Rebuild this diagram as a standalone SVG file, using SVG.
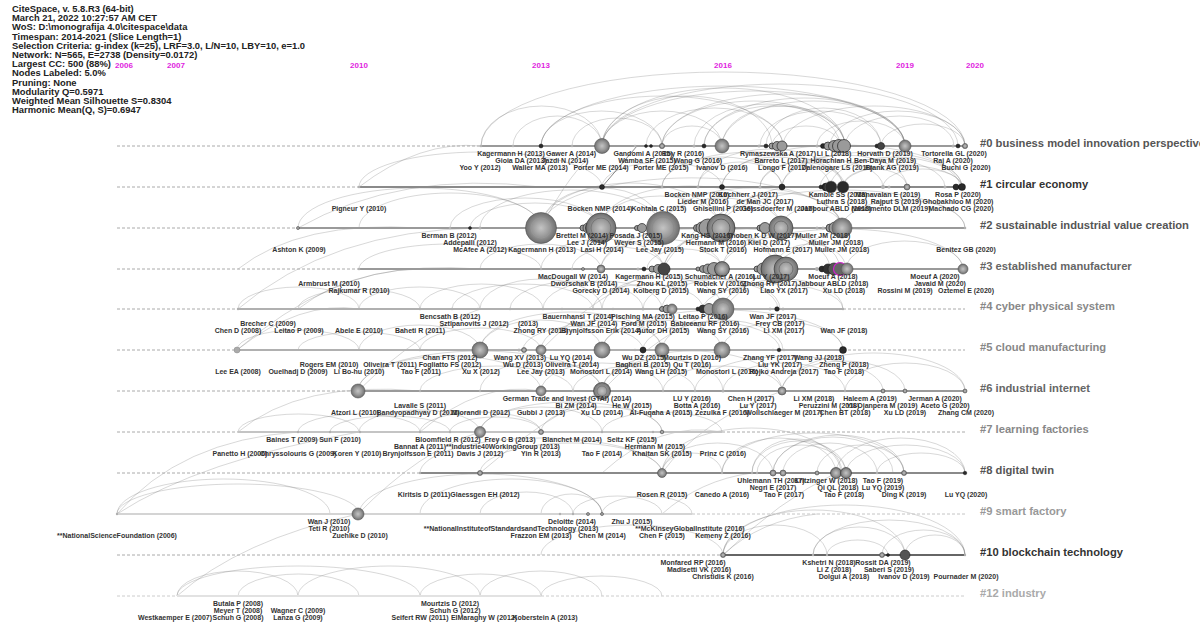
<svg xmlns="http://www.w3.org/2000/svg" width="1200" height="623" viewBox="0 0 1200 623">
<defs>
<radialGradient id="gg" cx="50%" cy="50%" r="50%">
<stop offset="0" stop-color="#c4c4c4"/><stop offset="0.55" stop-color="#9a9a9a"/><stop offset="1" stop-color="#6e6e6e"/>
</radialGradient>
<style>
.l{font:bold 7px "Liberation Sans",Arial,sans-serif;fill:#333;text-anchor:middle}
.h{font:bold 9.4px "Liberation Sans",Arial,sans-serif;fill:#222}
.y{font:bold 8px "Liberation Sans",Arial,sans-serif;fill:#e01ee0;text-anchor:middle}
.c{font:bold 11.2px "Liberation Sans",Arial,sans-serif}
.a path{fill:none;stroke:#6a6a6a;stroke-opacity:.33;stroke-width:.8}
.x path{fill:none;stroke:#6a6a6a;stroke-opacity:.33;stroke-width:.8}
.dl{stroke:#aaa;stroke-width:1;stroke-dasharray:3 2}
.sl{stroke:#9a9a9a;stroke-width:2.2}
.sf{stroke:#d4d4d4;stroke-width:2}
.n{fill:url(#gg);stroke:#555;stroke-width:.6}
.k{fill:#2a2a2a;stroke:#000;stroke-width:.4}
.t{fill:#b0b0b0}
.r{fill:#9a9a9a;stroke:#222;stroke-width:.7}
</style>
</defs>
<rect width="1200" height="623" fill="#fff"/>

<g id="header" class="h">
<text x="12" y="12">CiteSpace, v. 5.8.R3 (64-bit)</text>
<text x="12" y="21.2">March 21, 2022 10:27:57 AM CET</text>
<text x="12" y="30.4">WoS: D:\monografija 4.0\citespace\data</text>
<text x="12" y="39.6">Timespan: 2014-2021 (Slice Length=1)</text>
<text x="12" y="48.8">Selection Criteria: g-index (k=25), LRF=3.0, L/N=10, LBY=10, e=1.0</text>
<text x="12" y="58">Network: N=565, E=2738 (Density=0.0172)</text>
<text x="12" y="67.2">Largest CC: 500 (88%)</text>
<text x="12" y="76.4">Nodes Labeled: 5.0%</text>
<text x="12" y="85.6">Pruning: None</text>
<text x="12" y="94.8">Modularity Q=0.5971</text>
<text x="12" y="104">Weighted Mean Silhouette S=0.8304</text>
<text x="12" y="113.2">Harmonic Mean(Q, S)=0.6947</text>
</g>

<g id="years" class="y">
<text x="124" y="68">2006</text><text x="176" y="68">2007</text><text x="359" y="68">2010</text><text x="541" y="68">2013</text><text x="723" y="68">2016</text><text x="905" y="68">2019</text><text x="975" y="68">2020</text>
</g>

<g id="connectors">
<g class="a">
<path d="M481 146A242 74 0 0 1 965 146M541 146A182 60 0 0 1 905 146M602 146A151.5 55 0 0 1 905 146M602 146A121.5 58 0 0 1 845 146M541 146A121 50 0 0 1 783 146M602 146A60 35 0 0 1 722 146M662 146A91.5 45 0 0 1 845 146M722 146A61.5 40 0 0 1 845 146M722 146A91.5 45 0 0 1 905 146M783 146A91 40 0 0 1 965 146M760 146A60.5 35 0 0 1 881 146M646 146A68.5 38 0 0 1 783 146M602 146A85 50 0 0 1 772 146M694 146A73 42 0 0 1 840 146M817 146A44 25 0 0 1 905 146M845 146A54.5 30 0 0 1 954 146M881 146A42 22 0 0 1 965 146M662 146A30 20 0 0 1 722 146M513 146A44.5 30 0 0 1 602 146M572 146A45 28 0 0 1 662 146M772 146A34 20 0 0 1 840 146M541 146A60.5 35 0 0 1 662 146M704 146A100.5 48 0 0 1 905 146M766 146A57.5 38 0 0 1 881 146M830 146A67.5 35 0 0 1 965 146M481 146A60.5 40 0 0 1 602 146M602 146A178 62 0 0 1 958 146M662 146A121.5 52 0 0 1 905 146M704 146A70 40 0 0 1 845 146"/>
<path d="M662 187A91.5 35 0 0 1 845 187M698 187A72.5 38 0 0 1 843 187M722 187A54 30 0 0 1 830 187M760 187A41.5 25 0 0 1 843 187M782 187A62.5 32 0 0 1 907 187M722 187A120 42 0 0 1 962 187M820 187A62.5 28 0 0 1 945 187M843 187A59.5 22 0 0 1 962 187M843 187A32 18 0 0 1 907 187M698 187A42 25 0 0 1 782 187M602 187A60 25 0 0 1 722 187M782 187A90 35 0 0 1 962 187M883 187A39.5 18 0 0 1 962 187M662 187A60 30 0 0 1 782 187M760 187A61.5 28 0 0 1 883 187M359 187A121.5 35 0 0 1 602 187M830 187A65 30 0 0 1 960 187"/>
<path d="M298 228A121.5 40 0 0 1 541 228M359 228A91 35 0 0 1 541 228M450 228A75 30 0 0 1 600 228M480 228A91 38 0 0 1 662 228M541 228A60.5 40 0 0 1 662 228M541 228A89.5 45 0 0 1 720 228M600 228A90.5 42 0 0 1 781 228M662 228A90 40 0 0 1 842 228M720 228A61 35 0 0 1 842 228M600 228A60 32 0 0 1 720 228M781 228A30.5 20 0 0 1 842 228M662 228A59.5 30 0 0 1 781 228M720 228A122.5 38 0 0 1 965 228M842 228A61.5 28 0 0 1 965 228M470 228A65 25 0 0 1 600 228M541 228A150 50 0 0 1 842 228"/>
<path d="M359 269A91 25 0 0 1 541 269M572 269A46 22 0 0 1 664 269M601 269A60.5 30 0 0 1 722 269M664 269A55.5 35 0 0 1 775 269M722 269A59 35 0 0 1 840 269M601 269A91 40 0 0 1 783 269M664 269A83 40 0 0 1 830 269M722 269A120.5 40 0 0 1 963 269M775 269A35.5 25 0 0 1 846 269M846 269A58.5 28 0 0 1 963 269M647 269A37.5 20 0 0 1 722 269M541 269A61.5 30 0 0 1 664 269M480 269A60.5 25 0 0 1 601 269"/>
<path d="M238 309A60.5 22 0 0 1 359 309M298 309A61 20 0 0 1 420 309M359 309A60.5 22 0 0 1 480 309M420 309A61.5 25 0 0 1 543 309M480 309A61 30 0 0 1 602 309M543 309A59.5 28 0 0 1 662 309M602 309A60.5 32 0 0 1 723 309M662 309A59 30 0 0 1 780 309M723 309A60 30 0 0 1 843 309M452 309A70.5 25 0 0 1 593 309M510 309A66.5 28 0 0 1 643 309M593 309A55 25 0 0 1 703 309M643 309A67.5 30 0 0 1 778 309M703 309A70 25 0 0 1 843 309"/>
<path d="M237 350A61 20 0 0 1 359 350M298 350A61 18 0 0 1 420 350M359 350A60.5 25 0 0 1 480 350M420 350A60.5 22 0 0 1 541 350M480 350A61 30 0 0 1 602 350M541 350A60.5 30 0 0 1 662 350M602 350A60 30 0 0 1 722 350M662 350A60.5 30 0 0 1 783 350M722 350A60.5 28 0 0 1 843 350M480 350A91 38 0 0 1 662 350M523 350A60 24 0 0 1 643 350M643 350A68.5 28 0 0 1 780 350M602 350A120.5 40 0 0 1 843 350"/>
<path d="M358 391A91.5 35 0 0 1 541 391M358 391A122 40 0 0 1 602 391M420 391A76.5 25 0 0 1 573 391M480 391A61 30 0 0 1 602 391M541 391A61 28 0 0 1 663 391M602 391A60.5 32 0 0 1 723 391M602 391A90 40 0 0 1 782 391M663 391A59.5 25 0 0 1 782 391M723 391A61 28 0 0 1 845 391M782 391A61.5 30 0 0 1 905 391M845 391A60 28 0 0 1 965 391M782 391A91.5 38 0 0 1 965 391M695 391A94 35 0 0 1 883 391M573 391A61 25 0 0 1 695 391"/>
<path d="M238 432A60.5 18 0 0 1 359 432M298 432A61 18 0 0 1 420 432M359 432A60.5 22 0 0 1 480 432M420 432A60.5 20 0 0 1 541 432M480 432A61 25 0 0 1 602 432M541 432A60.5 25 0 0 1 662 432M602 432A60 20 0 0 1 722 432M450 432A45.5 15 0 0 1 541 432M330 432A60 16 0 0 1 450 432M480 432A91 30 0 0 1 662 432"/>
<path d="M420 473A121 35 0 0 1 662 473M480 473A91 30 0 0 1 662 473M662 473A89.5 45 0 0 1 841 473M662 473A55.5 30 0 0 1 773 473M722 473A57 35 0 0 1 836 473M752 473A47 32 0 0 1 846 473M773 473A65.5 38 0 0 1 904 473M783 473A47 30 0 0 1 877 473M817 473A43.5 28 0 0 1 904 473M836 473A64.5 35 0 0 1 965 473M846 473A59.5 28 0 0 1 965 473M757 473A44.5 28 0 0 1 846 473M877 473A44 20 0 0 1 965 473M662 473A30 20 0 0 1 722 473M722 473A91 40 0 0 1 904 473M773 473A60 36 0 0 1 893 473M752 473A45 34 0 0 1 842 473"/>
<path d="M117 514A106.5 35 0 0 1 330 514M117 514A121 30 0 0 1 359 514M359 514A121.5 40 0 0 1 602 514M420 514A91 35 0 0 1 602 514M541 514A30.5 20 0 0 1 602 514M573 514A44.5 18 0 0 1 662 514M602 514A45 18 0 0 1 692 514M480 514A46.5 22 0 0 1 573 514"/>
<path d="M723 555A91 45 0 0 1 905 555M723 555A52 30 0 0 1 827 555M813 555A46 28 0 0 1 905 555M827 555A30.5 15 0 0 1 888 555M882 555A41.5 25 0 0 1 965 555M905 555A30 20 0 0 1 965 555M723 555A121 50 0 0 1 965 555M813 555A76 35 0 0 1 965 555M541 555A91 30 0 0 1 723 555"/>
<path d="M177 596A60.5 25 0 0 1 298 596M238 596A60.5 22 0 0 1 359 596M298 596A91 30 0 0 1 480 596M420 596A60.5 22 0 0 1 541 596M480 596A61 25 0 0 1 602 596M541 596A60.5 20 0 0 1 662 596M177 596A121.5 30 0 0 1 420 596"/>
</g>
<g class="x">
<path d="M238 309Q330 230 480 228M237 350Q330 270 420 269M238 269Q300 220 420 228M298 228Q400 170 541 187M359 187Q420 140 481 146M358 391Q420 330 480 309M358 514Q420 450 480 432M117 514Q180 440 298 432M117 514Q200 460 359 432M238 432Q300 380 420 391M177 596Q240 540 358 514M541 350Q600 290 663 269M602 391Q660 330 722 309M662 473Q700 420 782 391M723 555Q780 500 836 473M480 473Q540 420 602 391M722 309Q780 250 842 228M662 269Q700 210 782 187M541 228Q570 170 602 146M298 309Q360 260 480 269M237 350Q300 300 359 309M420 432Q480 380 541 391M602 473Q660 420 722 432M662 514Q700 480 752 473M723 555Q760 520 817 514"/>
<path d="M602 187L637 146" style="stroke:#444;stroke-opacity:.8"/>
</g>
</g>

<g id="timelines">
<line class="dl" x1="117" y1="146" x2="481" y2="146"/><line class="sl" x1="481" y1="146" x2="965" y2="146"/>
<line class="dl" x1="117" y1="187" x2="359" y2="187"/><line class="sl" x1="359" y1="187" x2="965" y2="187" style="stroke:#8a8a8a"/>
<line class="dl" x1="117" y1="228" x2="298" y2="228"/><line class="sl" x1="298" y1="228" x2="965" y2="228"/>
<line class="dl" x1="117" y1="269" x2="359" y2="269"/><line class="sl" x1="359" y1="269" x2="965" y2="269"/>
<line class="dl" x1="117" y1="309" x2="238" y2="309"/><line class="sl" x1="238" y1="309" x2="843" y2="309" style="stroke:#b0b0b0"/><line class="dl" x1="843" y1="309" x2="965" y2="309"/>
<line class="dl" x1="117" y1="350" x2="237" y2="350"/><line class="sl" x1="237" y1="350" x2="843" y2="350" style="stroke:#b0b0b0"/><line class="dl" x1="843" y1="350" x2="965" y2="350"/>
<line class="dl" x1="117" y1="391" x2="358" y2="391"/><line class="sl" x1="358" y1="391" x2="965" y2="391"/>
<line class="dl" x1="117" y1="432" x2="238" y2="432"/><line class="sf" x1="238" y1="432" x2="722" y2="432" style="stroke:#c4c4c4"/><line class="dl" x1="722" y1="432" x2="965" y2="432"/>
<line class="dl" x1="117" y1="473" x2="420" y2="473"/><line class="sl" x1="420" y1="473" x2="965" y2="473" style="stroke:#8a8a8a"/>
<line class="sf" x1="117" y1="514" x2="692" y2="514"/><line class="dl" x1="692" y1="514" x2="965" y2="514" style="stroke:#c4c4c4"/>
<line class="dl" x1="117" y1="555" x2="723" y2="555"/><line class="sl" x1="723" y1="555" x2="965" y2="555" style="stroke:#666"/>
<line class="dl" x1="117" y1="596" x2="177" y2="596" style="stroke:#ccc"/><line class="sf" x1="177" y1="596" x2="541" y2="596" style="stroke:#e2e2e2"/><line class="dl" x1="541" y1="596" x2="965" y2="596" style="stroke:#ccc"/>
</g>

<g id="cluster-0">
<circle class="t" cx="481" cy="146" r="1.3"/><circle class="t" cx="513" cy="146" r="1.3"/><circle class="k" cx="541" cy="146" r="2"/><circle class="t" cx="572" cy="146" r="1.3"/>
<circle class="n" cx="602" cy="146" r="7.5"/><circle class="t" cx="635" cy="146" r="1.3"/><circle class="k" cx="646" cy="146" r="1.5"/><circle class="k" cx="651" cy="146" r="1.5"/><circle class="n" cx="662" cy="146" r="2.6"/>
<circle class="t" cx="694" cy="146" r="1.5"/><circle class="k" cx="704" cy="146" r="2"/><circle class="n" cx="722" cy="146" r="7"/><circle class="t" cx="759" cy="146" r="1.5"/><circle class="k" cx="766" cy="146" r="2"/>
<circle class="r" cx="772" cy="146" r="3"/><circle class="r" cx="777" cy="146" r="4.5"/><circle class="r" cx="782" cy="146" r="5"/>
<circle class="t" cx="817" cy="146" r="1.5"/><circle class="k" cx="823" cy="146" r="2.5"/><circle class="r" cx="828" cy="146" r="4"/><circle class="r" cx="834" cy="146" r="5.5"/><circle class="r" cx="839" cy="146" r="6.5"/><circle class="r" cx="844" cy="146" r="6.5"/>
<circle class="k" cx="877" cy="146" r="2"/><circle class="r" cx="881" cy="146" r="3.5" style="fill:#444"/><circle class="n" cx="905" cy="146" r="6"/><circle class="t" cx="953" cy="146" r="1.5"/><circle class="k" cx="958" cy="146" r="2"/><circle class="n" cx="965" cy="146" r="2.6"/>
<text class="c" x="980" y="147" fill="#555">#0 business model innovation perspective</text>
<g class="l">
<text x="511" y="155.5">Kagermann H (2013)</text><text x="571" y="155.5">Gawer A (2014)</text><text x="643" y="155.5">Gandomi A (2015)</text><text x="683" y="155.5">Roy R (2016)</text><text x="778" y="155.5">Rymaszewska A (2017)</text><text x="834" y="155.5">Li L (2018)</text><text x="885" y="155.5">Horvath D (2019)</text><text x="954" y="155.5">Tortorella GL (2020)</text>
<text x="521" y="162.5">Gioia DA (2013)</text><text x="565" y="162.5">Jazdi N (2014)</text><text x="647" y="162.5">Wamba SF (2015)</text><text x="698" y="162.5">Wang G (2016)</text><text x="781" y="162.5">Barreto L (2017)</text><text x="831" y="162.5">Horachian H</text><text x="885" y="162.5">Ben-Daya M (2019)</text><text x="953" y="162.5">Raj A (2020)</text>
<text x="480" y="169.5">Yoo Y (2012)</text><text x="540" y="169.5">Waller MA (2013)</text><text x="601" y="169.5">Porter ME (2014)</text><text x="661" y="169.5">Porter ME (2015)</text><text x="722" y="169.5">Ivanov D (2016)</text><text x="783" y="169.5">Longo F (2017)</text><text x="837" y="169.5">Dalenogare LS (2018)</text><text x="892" y="169.5">Frank AG (2019)</text><text x="966" y="169.5">Buchi G (2020)</text>
</g>
</g>

<g id="cluster-1">
<circle class="t" cx="359" cy="187" r="1.3"/><circle class="k" cx="602" cy="187" r="2.5"/><circle class="t" cx="662" cy="187" r="1.3"/><circle class="t" cx="698" cy="187" r="1.5"/><circle class="k" cx="722" cy="187" r="2.5"/><circle class="t" cx="760" cy="187" r="1.5"/><circle class="k" cx="782" cy="187" r="3"/>
<circle class="k" cx="821" cy="187" r="2"/><circle class="k" cx="826" cy="187" r="4"/><circle class="k" cx="831" cy="187" r="6" style="stroke:#777"/><circle class="k" cx="843" cy="187" r="6" style="stroke:#777"/>
<circle class="t" cx="883" cy="187" r="2"/><circle class="t" cx="889" cy="187" r="1.5"/><circle class="n" cx="907" cy="187" r="3"/><circle class="t" cx="945" cy="187" r="1.5"/><circle class="k" cx="956" cy="187" r="3"/><circle class="k" cx="962" cy="187" r="3.5"/>
<text class="c" x="980" y="188" fill="#333">#1 circular economy</text>
<g class="l">
<text x="697" y="196.5">Bocken NMP (2016)</text><text x="748" y="196.5">Kirchherr J (2017)</text><text x="838" y="196.5">Kamble SS (2018)</text><text x="888" y="196.5">Manavalan E (2019)</text><text x="958" y="196.5">Rosa P (2020)</text>
<text x="703" y="203.5">Lieder M (2016)</text><text x="765" y="203.5">de Man JC (2017)</text><text x="842" y="203.5">Luthra S (2018)</text><text x="896" y="203.5">Rajput S (2019)</text><text x="958" y="203.5">Ghobakhloo M (2020)</text>
<text x="359" y="210.5">Pigneur Y (2010)</text><text x="600" y="210.5">Bocken NMP (2014)</text><text x="659" y="210.5">Kohtala C (2015)</text><text x="723" y="210.5">Ghisellini P (2016)</text><text x="778" y="210.5">Geissdoerfer M (2017)</text><text x="836" y="210.5">Jabbour ABLD (2018)</text><text x="891" y="210.5">Nascimento DLM (2019)</text><text x="961" y="210.5">Machado CG (2020)</text>
</g>
</g>

<g id="cluster-2">
<circle class="n" cx="298" cy="228" r="1.5"/><circle class="t" cx="450" cy="228" r="1.3"/><circle class="k" cx="470" cy="228" r="1.5"/><circle class="t" cx="480" cy="228" r="1.5"/>
<circle class="n" cx="541" cy="228" r="15.5"/><circle cx="541" cy="228" r="10" fill="none" stroke="#999" stroke-width=".6"/>
<circle class="r" cx="583" cy="228" r="3"/><circle class="r" cx="588" cy="228" r="5"/><circle class="r" cx="593" cy="228" r="7.5"/><circle class="n" cx="601" cy="228" r="15" style="stroke:#333"/><circle cx="601" cy="228" r="10" fill="none" stroke="#666" stroke-width=".6"/>
<circle class="r" cx="637" cy="228" r="2.5"/><circle class="r" cx="642" cy="228" r="4.5"/><circle class="n" cx="663" cy="228" r="16.5"/><circle cx="663" cy="228" r="11" fill="none" stroke="#888" stroke-width=".6"/>
<circle class="r" cx="697" cy="228" r="3.5"/><circle class="r" cx="702" cy="228" r="6"/><circle class="r" cx="708" cy="228" r="9"/><circle class="n" cx="721" cy="228" r="14" style="stroke:#222"/><circle cx="721" cy="228" r="9" fill="none" stroke="#444" stroke-width=".6"/>
<circle class="r" cx="760" cy="228" r="3"/><circle class="r" cx="765" cy="228" r="5.5"/><circle class="n" cx="781" cy="228" r="12" style="stroke:#333"/><circle cx="781" cy="228" r="7" fill="none" stroke="#555" stroke-width=".6"/>
<circle class="t" cx="817" cy="228" r="1.5"/><circle class="t" cx="823" cy="228" r="1.5"/><circle class="r" cx="830" cy="228" r="4"/><circle class="r" cx="835" cy="228" r="6"/><circle class="n" cx="842" cy="228" r="10"/><circle class="t" cx="965" cy="228" r="1.3"/>
<text class="c" x="980" y="229" fill="#555">#2 sustainable industrial value creation</text>
<g class="l">
<text x="449" y="237.5">Berman B (2012)</text><text x="582" y="237.5">Brettel M (2014)</text><text x="636" y="237.5">Posada J (2015)</text><text x="707" y="237.5">Kang HS (2016)</text><text x="762" y="237.5">Thoben K D W (2017)</text><text x="823" y="237.5">Muller JM (2018)</text>
<text x="470" y="244.5">Addepalli (2012)</text><text x="587" y="244.5">Lee J (2014)</text><text x="639" y="244.5">Weyer S (2015)</text><text x="716" y="244.5">Hermann M (2016)</text><text x="769" y="244.5">Kiel D (2017)</text><text x="836" y="244.5">Muller JM (2018)</text>
<text x="299" y="251.5">Ashton K (2009)</text><text x="480" y="251.5">McAfee A (2012)</text><text x="542" y="251.5">Kagermann H (2013)</text><text x="602" y="251.5">Lasi H (2014)</text><text x="660" y="251.5">Lee Jay (2015)</text><text x="723" y="251.5">Stock T (2016)</text><text x="783" y="251.5">Hofmann E (2017)</text><text x="842" y="251.5">Muller JM (2018)</text><text x="966" y="251.5">Benitez GB (2020)</text>
</g>
</g>

<g id="cluster-3">
<circle class="t" cx="359" cy="269" r="1.3"/><circle class="t" cx="541" cy="269" r="1.2"/><circle class="t" cx="572" cy="269" r="1.2"/><circle class="n" cx="583" cy="269" r="1.5"/><circle class="n" cx="601" cy="269" r="4"/>
<circle class="t" cx="638" cy="269" r="1.5"/><circle class="k" cx="644" cy="269" r="2"/><circle class="r" cx="652" cy="269" r="3"/><circle class="r" cx="658" cy="269" r="4.5"/><circle class="r" cx="664" cy="269" r="6" style="fill:#444"/>
<circle class="r" cx="698" cy="269" r="2"/><circle class="r" cx="703" cy="269" r="3.5"/><circle class="r" cx="708" cy="269" r="5"/><circle class="r" cx="714" cy="269" r="6.5"/><circle class="n" cx="722" cy="269" r="7.5" style="stroke:#222"/>
<circle class="r" cx="757" cy="269" r="3"/><circle class="r" cx="763" cy="269" r="6"/><circle class="n" cx="775" cy="269" r="14" style="stroke:#222"/><circle class="n" cx="786" cy="269" r="12" style="stroke:#333"/><circle cx="786" cy="269" r="7" fill="none" stroke="#555" stroke-width=".6"/>
<circle class="t" cx="817" cy="269" r="2"/><circle class="k" cx="822" cy="269" r="3"/><circle class="r" cx="828" cy="269" r="5" style="fill:#333"/><circle class="r" cx="834" cy="269" r="6" style="fill:#555"/><circle cx="840" cy="269" r="6.5" fill="#666" stroke="#d020d0" stroke-width="1.2"/><circle class="n" cx="847" cy="269" r="6"/>
<circle class="n" cx="963" cy="269" r="5"/>
<text class="c" x="980" y="270" fill="#666">#3 established manufacturer</text>
<g class="l">
<text x="573" y="278.5">MacDougall W (2014)</text><text x="649" y="278.5">Kagermann H (2015)</text><text x="720" y="278.5">Schumacher A (2016)</text><text x="771" y="278.5">Lu Y (2017)</text><text x="833" y="278.5">Moeuf A (2018)</text><text x="935" y="278.5">Moeuf A (2020)</text>
<text x="329" y="285.5">Armbrust M (2010)</text><text x="584" y="285.5">Dworschak B (2014)</text><text x="662" y="285.5">Zhou KL (2015)</text><text x="720" y="285.5">Roblek V (2016)</text><text x="770" y="285.5">Zhong RY (2017)</text><text x="833" y="285.5">Jabbour ABLD (2018)</text><text x="940" y="285.5">Javaid M (2020)</text>
<text x="359" y="292.5">Rajkumar R (2010)</text><text x="601" y="292.5">Gorecky D (2014)</text><text x="661" y="292.5">Kolberg D (2015)</text><text x="723" y="292.5">Wang SY (2016)</text><text x="784" y="292.5">Liao YX (2017)</text><text x="844" y="292.5">Xu LD (2018)</text><text x="905" y="292.5">Rossini M (2019)</text><text x="966" y="292.5">Oztemel E (2020)</text>
</g>
</g>

<g id="cluster-4">
<circle class="t" cx="238" cy="309" r="1.2"/><circle class="t" cx="420" cy="309" r="1.2"/><circle class="t" cx="452" cy="309" r="1.2"/><circle class="t" cx="478" cy="309" r="1.2"/><circle class="t" cx="510" cy="309" r="1.2"/><circle class="t" cx="543" cy="309" r="1.2"/><circle class="t" cx="562" cy="309" r="1.2"/><circle class="t" cx="593" cy="309" r="1.2"/><circle class="t" cx="613" cy="309" r="1.2"/><circle class="t" cx="643" cy="309" r="1.5"/>
<circle class="r" cx="662" cy="309" r="2.5"/><circle class="r" cx="667" cy="309" r="4"/><circle class="n" cx="672" cy="309" r="5"/>
<circle class="k" cx="698" cy="309" r="2"/><circle class="r" cx="703" cy="309" r="4" style="fill:#333"/><circle class="r" cx="709" cy="309" r="5.5"/><circle class="n" cx="723" cy="309" r="11"/><circle cx="723" cy="309" r="6.5" fill="none" stroke="#888" stroke-width=".6"/>
<circle class="t" cx="770" cy="309" r="1.5"/><circle class="k" cx="777" cy="309" r="2.3"/><circle class="t" cx="783" cy="309" r="1.5"/><circle class="t" cx="843" cy="309" r="1.2"/>
<text class="c" x="980" y="310" fill="#888">#4 cyber physical system</text>
<g class="l">
<text x="450" y="318.5">Bencsath B (2012)</text><text x="578" y="318.5">Bauernhansl T (2014)</text><text x="643" y="318.5">Pisching MA (2015)</text><text x="703" y="318.5">Leitao P (2016)</text><text x="773" y="318.5">Wan JF (2017)</text>
<text x="268" y="325.5">Brecher C (2009)</text><text x="474" y="325.5">Sztipanovits J (2012)</text><text x="528" y="325.5">(2013)</text><text x="594" y="325.5">Wan JF (2014)</text><text x="644" y="325.5">Ford M (2015)</text><text x="705" y="325.5">Babiceanu RF (2016)</text><text x="780" y="325.5">Frey CB (2017)</text>
<text x="238" y="332.5">Chen D (2008)</text><text x="299" y="332.5">Leitao P (2009)</text><text x="359" y="332.5">Abele E (2010)</text><text x="420" y="332.5">Baheti R (2011)</text><text x="541" y="332.5">Zhong RY (2013)</text><text x="601" y="332.5">Brynjolfsson Erik (2014)</text><text x="663" y="332.5">Autor DH (2015)</text><text x="723" y="332.5">Wang SY (2016)</text><text x="784" y="332.5">Li XM (2017)</text><text x="844" y="332.5">Wan JF (2018)</text>
</g>
</g>

<g id="cluster-5">
<circle cx="237" cy="350" r="3" fill="#aaa" stroke="#888" stroke-width=".5"/><circle class="t" cx="420" cy="350" r="1.2"/><circle class="n" cx="480" cy="350" r="8"/><circle class="t" cx="519" cy="350" r="1.5"/><circle class="n" cx="524" cy="350" r="2.5"/><circle class="n" cx="541" cy="350" r="5"/>
<circle class="n" cx="602" cy="350" r="8"/><circle class="t" cx="635" cy="350" r="1.2"/><circle class="k" cx="643" cy="350" r="3"/><circle class="n" cx="662" cy="350" r="7"/><circle class="n" cx="722" cy="350" r="8"/>
<circle class="t" cx="773" cy="350" r="1.3"/><circle class="k" cx="779" cy="350" r="1.8"/><circle class="t" cx="784" cy="350" r="1.3"/><circle class="k" cx="843" cy="350" r="3.5"/>
<text class="c" x="980" y="351" fill="#888">#5 cloud manufacturing</text>
<g class="l">
<text x="450" y="359.5">Chan FTS (2012)</text><text x="520" y="359.5">Wang XV (2013)</text><text x="571" y="359.5">Lu YQ (2014)</text><text x="644" y="359.5">Wu DZ (2015)</text><text x="692" y="359.5">Mourtzis D (2016)</text><text x="770" y="359.5">Zhang YF (2017)</text><text x="819" y="359.5">Wang JJ (2018)</text>
<text x="329" y="366.5">Rogers EM (2010)</text><text x="390" y="366.5">Oliveira T (2011)</text><text x="450" y="366.5">Fogliatto FS (2012)</text><text x="523" y="366.5">Wu D (2013)</text><text x="572" y="366.5">Oliveira T (2014)</text><text x="643" y="366.5">Bagheri B (2015)</text><text x="692" y="366.5">Qu T (2016)</text><text x="780" y="366.5">Liu YK (2017)</text><text x="844" y="366.5">Zheng P (2018)</text>
<text x="238" y="373.5">Lee EA (2008)</text><text x="298" y="373.5">Ouelhadj D (2009)</text><text x="359" y="373.5">Li Bo-hu (2010)</text><text x="421" y="373.5">Tao F (2011)</text><text x="481" y="373.5">Xu X (2012)</text><text x="541" y="373.5">Lee Jay (2013)</text><text x="601" y="373.5">Monostori L (2014)</text><text x="661" y="373.5">Wang LH (2015)</text><text x="727" y="373.5">Monostori L (2016)</text><text x="784" y="373.5">Rojko Andreja (2017)</text><text x="844" y="373.5">Tao F (2018)</text>
</g>
</g>

<g id="cluster-6">
<circle class="n" cx="358" cy="391" r="7"/><circle class="t" cx="420" cy="391" r="1.2"/><circle class="t" cx="480" cy="391" r="1.2"/><circle class="n" cx="541" cy="391" r="5"/><circle class="t" cx="573" cy="391" r="1.2"/>
<circle class="n" cx="602" cy="391" r="8.5" style="stroke:#333"/><circle cx="602" cy="391" r="5" fill="none" stroke="#666" stroke-width=".6"/><circle class="t" cx="663" cy="391" r="1.2"/><circle class="t" cx="695" cy="391" r="1.2"/><circle class="t" cx="723" cy="391" r="1.5"/>
<circle class="n" cx="782" cy="391" r="4"/><circle class="t" cx="845" cy="391" r="1.2"/><circle class="n" cx="883" cy="391" r="2"/><circle class="n" cx="905" cy="391" r="2"/><circle class="n" cx="965" cy="391" r="2"/>
<text class="c" x="980" y="392" fill="#666">#6 industrial internet</text>
<g class="l">
<text x="567" y="400.5">German Trade and Invest (GTAI) (2014)</text><text x="692" y="400.5">LU Y (2016)</text><text x="751" y="400.5">Chen H (2017)</text><text x="814" y="400.5">Li XM (2018)</text><text x="870" y="400.5">Haleem A (2019)</text><text x="935" y="400.5">Jerman A (2020)</text>
<text x="420" y="407.5">Lavalle S (2011)</text><text x="576" y="407.5">Bi ZM (2014)</text><text x="632" y="407.5">He W (2015)</text><text x="697" y="407.5">Botta A (2016)</text><text x="758" y="407.5">Lu Y (2017)</text><text x="829" y="407.5">Peruzzini M (2018)</text><text x="882" y="407.5">Yli-Ojanpera M (2019)</text><text x="945" y="407.5">Aceto G (2020)</text>
<text x="355" y="414.5">Atzori L (2010)</text><text x="418" y="414.5">Bandyopadhyay D (2011)</text><text x="481" y="414.5">Miorandi D (2012)</text><text x="541" y="414.5">Gubbi J (2013)</text><text x="602" y="414.5">Xu LD (2014)</text><text x="661" y="414.5">Al-Fuqaha A (2015)</text><text x="722" y="414.5">Zezulka F (2016)</text><text x="784" y="414.5">Wollschlaeger M (2017)</text><text x="845" y="414.5">Chen BT (2018)</text><text x="905" y="414.5">Xu LD (2019)</text><text x="966" y="414.5">Zhang CM (2020)</text>
</g>
</g>

<g id="cluster-7">
<circle class="t" cx="298" cy="432" r="1.2"/><circle class="t" cx="330" cy="432" r="1.2"/><circle class="t" cx="360" cy="432" r="1.2"/><circle class="t" cx="420" cy="432" r="1.2"/><circle class="t" cx="450" cy="432" r="1.2"/>
<circle class="n" cx="480" cy="432" r="5.5"/><circle class="n" cx="541" cy="432" r="2.5"/><circle class="t" cx="602" cy="432" r="1.2"/><circle class="t" cx="653" cy="432" r="1.2"/><circle class="n" cx="662" cy="432" r="1.8"/>
<text class="c" x="980" y="433" fill="#888">#7 learning factories</text>
<g class="l">
<text x="292" y="441.5">Baines T (2009)</text><text x="340" y="441.5">Sun F (2010)</text><text x="448" y="441.5">Bloomfield R (2012)</text><text x="510" y="441.5">Frey C B (2013)</text><text x="572" y="441.5">Blanchet M (2014)</text><text x="632" y="441.5">Seitz KF (2015)</text>
<text x="420" y="448.5">Bannat A (2011)</text><text x="503" y="448.5">**Industrie40WorkingGroup (2013)</text><text x="655" y="448.5">Hermann M (2015)</text>
<text x="240" y="455.5">Panetto H (2006)</text><text x="298" y="455.5">Chryssolouris G (2009)</text><text x="357" y="455.5">Koren Y (2010)</text><text x="418" y="455.5">Brynjolfsson E (2011)</text><text x="480" y="455.5">Davis J (2012)</text><text x="541" y="455.5">Yin R (2013)</text><text x="602" y="455.5">Tao F (2014)</text><text x="662" y="455.5">Khaitan SK (2015)</text><text x="723" y="455.5">Prinz C (2016)</text>
</g>
</g>

<g id="cluster-8">
<circle class="t" cx="420" cy="473" r="1.2"/><circle class="n" cx="480" cy="473" r="2.5"/><circle class="n" cx="662" cy="473" r="4.5"/><circle class="t" cx="722" cy="473" r="1.2"/><circle class="t" cx="752" cy="473" r="1.2"/><circle class="t" cx="757" cy="473" r="1.2"/>
<circle class="n" cx="773" cy="473" r="3"/><circle class="n" cx="783" cy="473" r="3"/><circle class="n" cx="817" cy="473" r="2"/><circle class="n" cx="836" cy="473" r="5.5" style="stroke:#333"/><circle class="n" cx="846" cy="473" r="5.5" style="stroke:#333"/>
<circle class="t" cx="877" cy="473" r="1.3"/><circle class="n" cx="904" cy="473" r="2.5"/><circle class="k" cx="965" cy="473" r="1.8"/>
<text class="c" x="980" y="474" fill="#555">#8 digital twin</text>
<g class="l">
<text x="771" y="482.5">Uhlemann TH (2017)</text><text x="826" y="482.5">Kritzinger W (2018)</text><text x="883" y="482.5">Tao F (2019)</text>
<text x="773" y="489.5">Negri E (2017)</text><text x="838" y="489.5">Qi QL (2018)</text><text x="883" y="489.5">Lu YQ (2019)</text>
<text x="424" y="496.5">Kiritsis D (2011)</text><text x="485" y="496.5">Glaessgen EH (2012)</text><text x="662" y="496.5">Rosen R (2015)</text><text x="722" y="496.5">Canedo A (2016)</text><text x="784" y="496.5">Tao F (2017)</text><text x="844" y="496.5">Tao F (2018)</text><text x="904" y="496.5">Ding K (2019)</text><text x="966" y="496.5">Lu YQ (2020)</text>
</g>
</g>

<g id="cluster-9">
<circle class="t" cx="117" cy="514" r="1.2"/><circle class="n" cx="358" cy="514" r="6"/><circle class="t" cx="560" cy="514" r="1.2"/><circle class="t" cx="573" cy="514" r="1.2"/><circle class="n" cx="588" cy="514" r="1.5"/><circle class="n" cx="602" cy="514" r="1.5"/>
<text class="c" x="980" y="515" fill="#999">#9 smart factory</text>
<g class="l">
<text x="329" y="523.5">Wan J (2010)</text><text x="572" y="523.5">Deloitte (2014)</text><text x="632" y="523.5">Zhu J (2015)</text>
<text x="329" y="530.5">Teti R (2010)</text><text x="511" y="530.5">**NationalInstituteofStandardsandTechnology (2013)</text><text x="690" y="530.5">**McKinseyGlobalInstitute (2016)</text>
<text x="117" y="537.5">**NationalScienceFoundation (2006)</text><text x="360" y="537.5">Zuehlke D (2010)</text><text x="541" y="537.5">Frazzon EM (2013)</text><text x="602" y="537.5">Chen M (2014)</text><text x="662" y="537.5">Chen F (2015)</text><text x="723" y="537.5">Kemeny Z (2016)</text>
</g>
</g>

<g id="cluster-10">
<circle class="n" cx="723" cy="555" r="2.5"/><circle class="t" cx="813" cy="555" r="1.2"/><circle class="t" cx="827" cy="555" r="1.2"/><circle class="n" cx="882" cy="555" r="2.5"/><circle class="k" cx="888" cy="555" r="1.5"/><circle class="n" cx="905" cy="555" r="5" style="fill:#555;stroke:#222"/><circle class="t" cx="965" cy="555" r="1.2"/>
<text class="c" x="980" y="556" fill="#333">#10 blockchain technology</text>
<g class="l">
<text x="693" y="564.5">Monfared RP (2016)</text><text x="829" y="564.5">Kshetri N (2018)</text><text x="883" y="564.5">Rossit DA (2019)</text>
<text x="699" y="571.5">Madisetti VK (2016)</text><text x="834" y="571.5">Li Z (2018)</text><text x="889" y="571.5">Saberi S (2019)</text>
<text x="723" y="578.5">Christidis K (2016)</text><text x="844" y="578.5">Dolgui A (2018)</text><text x="904" y="578.5">Ivanov D (2019)</text><text x="966" y="578.5">Pournader M (2020)</text>
</g>
</g>

<g id="cluster-12">
<text class="c" x="980" y="597" fill="#aaa">#12 industry</text>
<g class="l">
<text x="238" y="605.5">Butala P (2008)</text><text x="450" y="605.5">Mourtzis D (2012)</text>
<text x="238" y="612.5">Meyer T (2008)</text><text x="298" y="612.5">Wagner C (2009)</text><text x="455" y="612.5">Schuh G (2012)</text>
<text x="175" y="619.5">Westkaemper E (2007)</text><text x="238" y="619.5">Schuh G (2008)</text><text x="298" y="619.5">Lanza G (2009)</text><text x="420" y="619.5">Seifert RW (2011)</text><text x="484" y="619.5">ElMaraghy W (2012)</text><text x="545" y="619.5">Koberstein A (2013)</text>
</g>
</g>
</svg>
